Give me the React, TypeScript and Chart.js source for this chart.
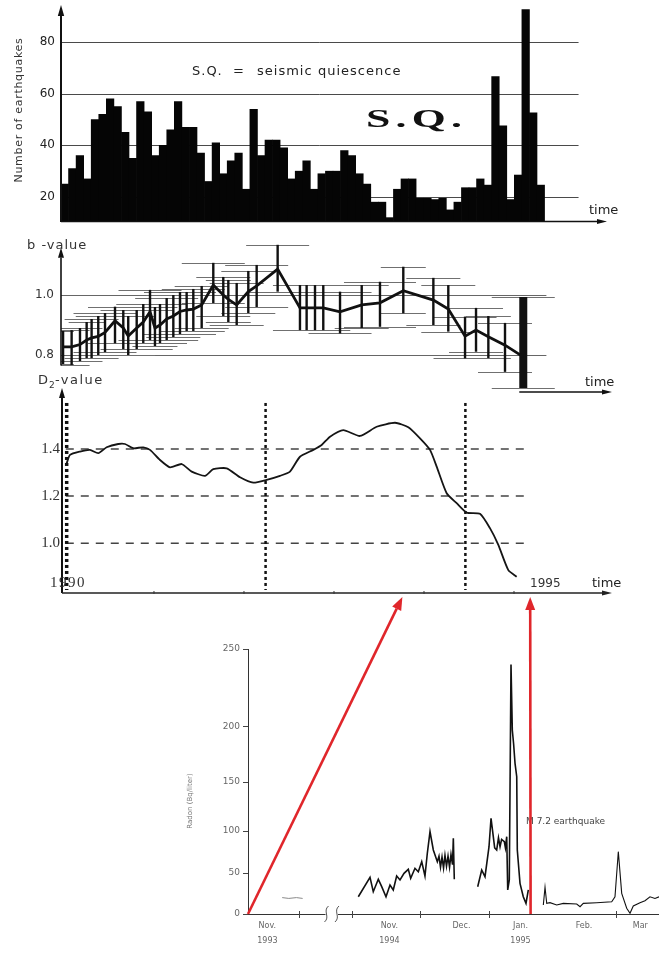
import React, { useEffect, useRef } from "react";
import { Chart, registerables, LinearScale } from "chart.js";

Chart.register(...registerables);

const W = 659;
const H = 953;
const SANS = '"DejaVu Sans", sans-serif';
const SERIF = '"Liberation Serif", serif';

// ---------- Panel 1: monthly number of earthquakes (1990 - 1995) ----------
const quakeMonths = Array.from({ length: 72 }, (_, i) => `${1990 + Math.floor(i / 12)}-${(i % 12) + 1}`);
const quakeCounts = [
  25, 31, 36, 27, 50, 52, 58, 55, 45, 35,
  57, 53, 36, 40, 46, 57, 47, 47, 37, 26,
  41, 29, 34, 37, 23, 54, 36, 42, 42, 39,
  27, 30, 34, 23, 29, 30, 30, 38, 36, 29,
  25, 18, 18, 12, 23, 27, 27, 19.5, 19.5, 19,
  19.5, 15, 18, 23.6, 23.6, 27, 24.6, 66.6, 47.6, 19,
  28.5, 92.6, 52.6, 24.6,
];
const quakeTicks = [20, 40, 60, 80];
const quakeGridEnd = 68; // month index where the reference lines stop

// ---------- Panel 2: b-value with error bars ----------
const bYears = [
  1989.99, 1990.085, 1990.178, 1990.252, 1990.307, 1990.381, 1990.456, 1990.567, 1990.659, 1990.714,
  1990.808, 1990.881, 1990.956, 1991.011, 1991.067, 1991.141, 1991.215, 1991.289, 1991.363, 1991.437,
  1991.53, 1991.659, 1991.77, 1991.826, 1991.919, 1992.048, 1992.141, 1992.374, 1992.622, 1992.696,
  1992.789, 1992.881, 1993.067, 1993.308, 1993.511, 1993.77, 1994.104, 1994.27, 1994.456, 1994.578,
  1994.715, 1994.9, 1995.103,
];
const bValues = [
  0.827, 0.827, 0.835, 0.85, 0.857, 0.862, 0.875, 0.914, 0.89, 0.863,
  0.89, 0.91, 0.944, 0.89, 0.9, 0.92, 0.93, 0.945, 0.95, 0.953,
  0.967, 1.033, 1.0, 0.985, 0.967, 1.011, 1.03, 1.086, 0.957, 0.957,
  0.957, 0.957, 0.944, 0.967, 0.974, 1.014, 0.983, 0.953, 0.863, 0.883,
  0.861, 0.833, 0.794,
];
const bLow = [
  0.77, 0.767, 0.78, 0.79, 0.79, 0.8, 0.81, 0.839, 0.82, 0.8,
  0.82, 0.84, 0.85, 0.83, 0.84, 0.85, 0.86, 0.87, 0.88, 0.88,
  0.89, 0.973, 0.93, 0.91, 0.9, 0.94, 0.96, 1.011, 0.883, 0.883,
  0.883, 0.883, 0.872, 0.89, 0.894, 0.939, 0.9, 0.878, 0.789, 0.811,
  0.79, 0.744, 0.69,
];
const bHigh = [
  0.88, 0.883, 0.89, 0.91, 0.92, 0.93, 0.94, 0.961, 0.95, 0.93,
  0.95, 0.97, 1.017, 0.96, 0.97, 0.99, 1.0, 1.01, 1.01, 1.02,
  1.03, 1.107, 1.06, 1.05, 1.04, 1.08, 1.1, 1.167, 1.033, 1.033,
  1.033, 1.033, 1.011, 1.033, 1.044, 1.094, 1.057, 1.033, 0.928, 0.957,
  0.93, 0.907, 0.993,
];
const bWindow = [
  0.12, 0.2, 0.25, 0.2, 0.3, 0.25, 0.35, 0.3, 0.25, 0.3,
  0.4, 0.3, 0.35, 0.25, 0.3, 0.35, 0.3, 0.4, 0.3, 0.35,
  0.3, 0.35, 0.3, 0.25, 0.3, 0.3, 0.35, 0.35, 0.3, 0.25,
  0.3, 0.3, 0.35, 0.3, 0.4, 0.25, 0.3, 0.3, 0.35, 0.3,
  0.25, 0.3, 0.35,
];
const bTicks = [0.8, 1.0];
const bGridEnd = 1995.36;

// ---------- Panel 3: D2 correlation dimension ----------
const d2Years = [
  1990.03, 1990.067, 1990.178, 1990.289, 1990.381, 1990.474, 1990.603, 1990.678, 1990.77, 1990.881,
  1990.956, 1991.067, 1991.178, 1991.308, 1991.419, 1991.567, 1991.659, 1991.808, 1991.956, 1992.103,
  1992.252, 1992.4, 1992.511, 1992.622, 1992.77, 1992.863, 1992.956, 1993.103, 1993.289, 1993.474,
  1993.678, 1993.826, 1993.956, 1994.067, 1994.141, 1994.252, 1994.363, 1994.474, 1994.622, 1994.733,
  1994.826, 1994.937, 1995.03,
];
const d2Values = [
  1.339, 1.375, 1.389, 1.396, 1.382, 1.407, 1.421, 1.421, 1.403, 1.407,
  1.396, 1.353, 1.322, 1.336, 1.304, 1.286, 1.314, 1.318, 1.28, 1.257,
  1.269, 1.286, 1.304, 1.367, 1.396, 1.417, 1.452, 1.48, 1.455, 1.494,
  1.511, 1.492, 1.445, 1.396, 1.325, 1.212, 1.17, 1.13, 1.125, 1.064,
  0.993, 0.886, 0.858,
];
const d2Ticks = [1.0, 1.2, 1.4];
const d2YearTicks = [1991, 1992, 1993, 1994, 1995];
const d2Dividers = [1990.03, 1992.24, 1994.46];
const d2DividerTop = 1.595;
const d2GridStart = 1990.02;
const d2GridEnd = 1995.18;

// ---------- Panel 4: radon (Bq/liter), months since Nov 1993 ----------
const radonNov93X = [0.67, 0.8, 0.95, 1.07];
const radonNov93Y = [20, 19, 20, 19];
const radonNovX = [
  12.093, 12.265, 12.313, 12.387, 12.437, 12.5, 12.559, 12.607, 12.657, 12.706,
  12.765, 12.828, 12.863, 12.926, 12.975, 13.025, 13.072, 13.106, 13.145, 13.193,
  13.251, 13.275, 13.297, 13.319, 13.341, 13.362, 13.384, 13.406, 13.428, 13.449,
  13.471, 13.483, 13.497,
];
const radonNovY = [
  21, 44.8, 27.2, 42.3, 33.3, 21.1, 35.4, 29.3, 46.3, 41.5,
  49.6, 54.4, 43.5, 55.6, 51.5, 63.5, 46.3, 73.5, 99.2, 77.4,
  63.5, 70, 57, 69, 56, 71, 58, 70, 57, 72,
  60, 91.3, 42.3,
];
const radonDecX = [
  13.836, 13.894, 13.942, 14.0, 14.032, 14.068, 14.09, 14.122, 14.15, 14.175,
  14.2, 14.243, 14.26, 14.281, 14.297, 14.322, 14.349, 14.37, 14.39, 14.413,
  14.44, 14.449, 14.492, 14.544, 14.587, 14.624,
];
const radonDecY = [
  33.3, 53.6, 45.5, 81.3, 113, 93.2, 80, 77.4, 92, 81.3,
  90, 87.3, 80, 93.2, 29.3, 41.5, 240, 197, 185, 167,
  154.8, 77.4, 37.4, 21, 13, 29.3,
];
const radonJanX = [
  14.862, 14.889, 14.916, 14.968, 15.073, 15.177, 15.386, 15.438, 15.489, 15.698,
  15.933, 15.984, 16.036, 16.089, 16.167, 16.219, 16.27, 16.375, 16.453, 16.531,
  16.609, 16.672,
];
const radonJanY = [
  11, 32.6, 13, 13.8, 11, 13, 12.2, 8.9, 13, 13.8,
  15, 21, 75.4, 25.2, 7, 0.9, 9.8, 13.8, 16.2, 21,
  19, 21,
];
const radonYTicks = [0, 50, 100, 150, 200, 250];
const radonLabelPos = [0.38, 12.55, 13.6, 14.5, 15.5, 16.38];
const radonLabels: (string | string[])[] = [["Nov.", "1993"], ["Nov.", "1994"], "Dec.", ["Jan.", "1995"], "Feb.", "Mar"];
const radonMonthTicks = [1, 12, 13, 14, 16];
const radonBreak = [2.5, 9.5];
// axis stops of the (non-uniform) reproduced radon graph: [value, fraction of axis]
const radonXStops = [[0, 0], [1, 0.1241], [1.5, 0.1873], [11.5, 0.2238], [12, 0.253], [13, 0.4185], [14, 0.5864], [15, 0.7397], [16, 0.8954], [16.672, 1]];
const radonYStops = [[0, 0], [50, 0.1547], [100, 0.3132], [150, 0.4981], [200, 0.7057], [250, 1]];

// red arrows: radon month (at 0 Bq/l) -> year on the D2 time axis
const arrowFromMonth = [0, 14.66];
const arrowToYear = [1993.76, 1995.18];

// ---------- helpers ----------
function interp(stops: number[][], v: number, from: number, to: number) {
  let i = 0;
  while (i < stops.length - 2 && v > stops[i + 1][from]) i++;
  const a = stops[i];
  const b = stops[i + 1];
  return a[to] + ((v - a[from]) / (b[from] - a[from])) * (b[to] - a[to]);
}

function makeBrokenScale(scaleId: string, stops: number[][]) {
  class BrokenScale extends LinearScale {
    static id = scaleId;
    static defaults = LinearScale.defaults;
    getPixelForValue(value: number) {
      return this.getPixelForDecimal(interp(stops, value, 0, 1));
    }
    getValueForPixel(pixel: number) {
      return interp(stops, this.getDecimalForPixel(pixel), 1, 0);
    }
  }
  return BrokenScale;
}
Chart.register(makeBrokenScale("radonTime", radonXStops) as any, makeBrokenScale("radonLevel", radonYStops) as any);

const fitBox = (w: number | null, h: number | null) => (s: any) => {
  if (w !== null) s.width = w;
  if (h !== null) s.height = h;
  s.paddingTop = 0;
  s.paddingBottom = 0;
  s.paddingLeft = 0;
  s.paddingRight = 0;
};

const fixedTicks = (vals: number[]) => (s: any) => {
  s.ticks = vals.map((v) => ({ value: v }));
};

function seg(ctx: CanvasRenderingContext2D, x0: number, y0: number, x1: number, y1: number) {
  ctx.beginPath();
  ctx.moveTo(x0, y0);
  ctx.lineTo(x1, y1);
  ctx.stroke();
}

function arrow(ctx: CanvasRenderingContext2D, x0: number, y0: number, x1: number, y1: number, color: string, width: number, len: number, half: number) {
  const ang = Math.atan2(y1 - y0, x1 - x0);
  const bx = x1 - len * Math.cos(ang);
  const by = y1 - len * Math.sin(ang);
  ctx.save();
  ctx.strokeStyle = color;
  ctx.fillStyle = color;
  ctx.lineWidth = width;
  ctx.setLineDash([]);
  seg(ctx, x0, y0, bx, by);
  ctx.beginPath();
  ctx.moveTo(x1, y1);
  ctx.lineTo(bx + half * Math.sin(ang), by - half * Math.cos(ang));
  ctx.lineTo(bx - half * Math.sin(ang), by + half * Math.cos(ang));
  ctx.closePath();
  ctx.fill();
  ctx.restore();
}

function text(ctx: CanvasRenderingContext2D, s: string, x: number, y: number, font: string, color: string, align: CanvasTextAlign = "left", spacing = 0) {
  ctx.save();
  ctx.font = font;
  ctx.fillStyle = color;
  ctx.textAlign = align;
  ctx.textBaseline = "middle";
  (ctx as any).letterSpacing = spacing + "px";
  ctx.fillText(s, x, y);
  ctx.restore();
}

const baseOptions = {
  responsive: false,
  animation: false as const,
  events: [] as any[],
  plugins: { legend: { display: false }, tooltip: { enabled: false } },
};

// ---------- decorations ----------
const quakeDecor = {
  id: "quakeDecor",
  beforeDatasetsDraw(chart: any) {
    const { ctx, chartArea: a, scales: { x, y } } = chart;
    ctx.save();
    ctx.strokeStyle = "#4a4a4a";
    ctx.lineWidth = 1;
    for (const t of quakeTicks) {
      const py = Math.round(y.getPixelForValue(t)) + 0.5;
      seg(ctx, a.left, py, x.getPixelForValue(quakeGridEnd), py);
    }
    ctx.restore();
  },
  afterDatasetsDraw(chart: any) {
    const { ctx, chartArea: a } = chart;
    arrow(ctx, a.left, a.bottom + 1, a.left, a.top - 3, "#111", 2, 11, 3.2);
    arrow(ctx, a.left, a.bottom + 0.5, a.right + 2, a.bottom + 0.5, "#111", 1.5, 10, 2.6);
    text(ctx, "time", a.right - 16, a.bottom - 10, `13px ${SANS}`, "#222");
    ctx.save();
    ctx.translate(19, 110);
    ctx.rotate(-Math.PI / 2);
    text(ctx, "Number of earthquakes", 0, 0, `11px ${SANS}`, "#333", "center", 0.7);
    ctx.restore();
    const f = `13px ${SANS}`;
    text(ctx, "S.Q.", 192, 72, f, "#222", "left", 1);
    text(ctx, "=", 233, 72, f, "#222", "left", 1);
    text(ctx, "seismic", 257, 72, f, "#222", "left", 1);
    text(ctx, "quiescence", 318, 72, f, "#222", "left", 1);
    ctx.save();
    ctx.translate(366, 121);
    ctx.scale(1.75, 1);
    text(ctx, "S.Q.", 0, 0, `bold 25px ${SERIF}`, "#111", "left", 3);
    ctx.restore();
  },
};

const bDecor = {
  id: "bDecor",
  beforeDatasetsDraw(chart: any) {
    const { ctx, chartArea: a, scales: { x, y } } = chart;
    ctx.save();
    ctx.strokeStyle = "#666";
    ctx.lineWidth = 1;
    for (const t of bTicks) {
      const py = Math.round(y.getPixelForValue(t)) + 0.5;
      seg(ctx, a.left, py, x.getPixelForValue(bGridEnd), py);
    }
    ctx.strokeStyle = "#707070";
    bYears.forEach((yr, i) => {
      const x0 = Math.max(a.left, x.getPixelForValue(yr - bWindow[i]));
      const x1 = x.getPixelForValue(yr + bWindow[i]);
      for (const v of [bLow[i], bHigh[i]]) {
        const py = Math.round(y.getPixelForValue(v)) + 0.5;
        seg(ctx, x0, py, x1, py);
      }
    });
    ctx.strokeStyle = "#111";
    bYears.forEach((yr, i) => {
      ctx.lineWidth = i === bYears.length - 1 ? 8 : 2.4;
      const px = x.getPixelForValue(yr);
      seg(ctx, px, y.getPixelForValue(bLow[i]), px, y.getPixelForValue(bHigh[i]));
    });
    ctx.restore();
  },
  afterDatasetsDraw(chart: any) {
    const { ctx, chartArea: a, scales: { x, y } } = chart;
    arrow(ctx, a.left, y.getPixelForValue(0.765), a.left, y.getPixelForValue(1.157), "#111", 1.6, 10, 3);
    const startX = x.getPixelForValue(bYears[bYears.length - 1]) - 4;
    arrow(ctx, startX, a.bottom, a.right + 7, a.bottom, "#111", 1.5, 10, 2.6);
    text(ctx, "time", a.right - 20, a.bottom - 9, `13px ${SANS}`, "#222");
    text(ctx, "b -value", 27, 246, `13px ${SANS}`, "#333", "left", 1);
  },
};

const d2Decor = {
  id: "d2Decor",
  beforeDatasetsDraw(chart: any) {
    const { ctx, chartArea: a, scales: { x, y } } = chart;
    ctx.save();
    ctx.setLineDash([8, 7]);
    ctx.strokeStyle = "#444";
    ctx.lineWidth = 1.5;
    for (const t of d2Ticks) {
      const py = y.getPixelForValue(t);
      seg(ctx, x.getPixelForValue(d2GridStart), py, x.getPixelForValue(d2GridEnd), py);
    }
    ctx.setLineDash([3, 3]);
    ctx.strokeStyle = "#111";
    d2Dividers.forEach((yr, i) => {
      ctx.lineWidth = i === 0 ? 3.5 : 2.5;
      const px = x.getPixelForValue(yr);
      seg(ctx, px, y.getPixelForValue(d2DividerTop), px, a.bottom - 3);
    });
    ctx.restore();
  },
  afterDatasetsDraw(chart: any) {
    const { ctx, chartArea: a, scales: { x } } = chart;
    arrow(ctx, a.left, a.bottom, a.left, a.top - 2, "#111", 2, 10, 3);
    arrow(ctx, a.left, a.bottom, a.right, a.bottom, "#222", 1.4, 10, 2.6);
    ctx.save();
    ctx.strokeStyle = "#333";
    ctx.lineWidth = 1;
    for (const yr of d2YearTicks) {
      const px = x.getPixelForValue(yr);
      seg(ctx, px, a.bottom - 2, px, a.bottom + 1);
    }
    ctx.restore();
    text(ctx, "D", 38, 381, `13px ${SANS}`, "#333");
    text(ctx, "2", 49, 386, `9px ${SANS}`, "#333");
    text(ctx, "-value", 55, 381, `13px ${SANS}`, "#333", "left", 1.5);
    text(ctx, "1990", 50, 583, `15px ${SERIF}`, "#333", "left", 1.5);
    text(ctx, "1995", 530, 584, `12px ${SANS}`, "#333");
    text(ctx, "time", 592, 584, `13px ${SANS}`, "#222");
  },
};

// ---------- component ----------
export default function App() {
  const r1 = useRef<HTMLCanvasElement>(null);
  const r2 = useRef<HTMLCanvasElement>(null);
  const r3 = useRef<HTMLCanvasElement>(null);
  const r4 = useRef<HTMLCanvasElement>(null);

  useEffect(() => {
    const quake = new Chart(r1.current as HTMLCanvasElement, {
      type: "bar",
      data: {
        labels: quakeMonths,
        datasets: [
          {
            data: quakeCounts,
            backgroundColor: "#050505",
            borderWidth: 0,
            barPercentage: 1,
            categoryPercentage: 1,
          },
        ],
      },
      options: {
        ...baseOptions,
        layout: { padding: { left: 0, top: 8, right: W - 605, bottom: H - 221 } },
        scales: {
          x: { display: false },
          y: {
            min: 10.7,
            max: 93.2,
            afterBuildTicks: fixedTicks(quakeTicks),
            afterFit: fitBox(61, null),
            grid: { display: false, drawTicks: false },
            border: { display: false },
            ticks: { padding: 6, color: "#222", font: { family: SANS, size: 12 } },
          },
        },
      } as any,
      plugins: [quakeDecor],
    });

    const bval = new Chart(r2.current as HTMLCanvasElement, {
      type: "line",
      data: {
        datasets: [
          {
            data: bYears.map((yr, i) => ({ x: yr, y: bValues[i] })),
            borderColor: "#111",
            borderWidth: 2.8,
            pointRadius: 0,
            tension: 0,
          },
        ],
      },
      options: {
        ...baseOptions,
        layout: { padding: { left: 0, top: 240, right: W - 605, bottom: H - 392 } },
        scales: {
          x: { type: "linear", min: 1989.967, max: 1996.011, display: false },
          y: {
            min: 0.677,
            max: 1.183,
            afterBuildTicks: fixedTicks(bTicks),
            afterFit: fitBox(61, null),
            grid: { display: false, drawTicks: false },
            border: { display: false },
            ticks: { padding: 7, color: "#333", font: { family: SANS, size: 12 }, callback: (v: any) => Number(v).toFixed(1) },
          },
        },
      } as any,
      plugins: [bDecor],
    });

    const d2 = new Chart(r3.current as HTMLCanvasElement, {
      type: "line",
      data: {
        datasets: [
          {
            data: d2Years.map((yr, i) => ({ x: yr, y: d2Values[i] })),
            borderColor: "#151515",
            borderWidth: 1.8,
            pointRadius: 0,
            tension: 0.2,
          },
        ],
      },
      options: {
        ...baseOptions,
        layout: { padding: { left: 0, top: 390, right: W - 612, bottom: H - 593 } },
        scales: {
          x: { type: "linear", min: 1989.978, max: 1996.089, display: false },
          y: {
            min: 0.789,
            max: 1.65,
            afterBuildTicks: fixedTicks(d2Ticks),
            afterFit: fitBox(62, null),
            grid: { display: false, drawTicks: false },
            border: { display: false },
            ticks: { padding: 2, color: "#333", font: { family: SERIF, size: 15 }, callback: (v: any) => Number(v).toFixed(1) },
          },
        },
      } as any,
      plugins: [d2Decor],
    });

    const radonDecor = {
      id: "radonDecor",
      afterDraw(chart: any) {
        const { ctx, chartArea: a, scales: { x, y } } = chart;
        ctx.save();
        ctx.translate(190, 801);
        ctx.rotate(-Math.PI / 2);
        text(ctx, "Radon (Bq/liter)", 0, 0, `7px ${SANS}`, "#777", "center");
        ctx.restore();
        ctx.save();
        ctx.strokeStyle = "#444";
        ctx.lineWidth = 1;
        for (const m of radonMonthTicks) {
          const px = Math.round(x.getPixelForValue(m)) + 0.5;
          seg(ctx, px, a.bottom - 3, px, a.bottom + 4);
        }
        const b0 = x.getPixelForValue(radonBreak[0]);
        const b1 = x.getPixelForValue(radonBreak[1]);
        ctx.fillStyle = "#fff";
        ctx.fillRect(b0 - 1, a.bottom - 2, b1 - b0 + 2, 4);
        ctx.strokeStyle = "#555";
        for (const bx of [b0, b1]) {
          ctx.beginPath();
          ctx.moveTo(bx + 2, a.bottom - 8);
          ctx.bezierCurveTo(bx - 4, a.bottom - 3, bx + 4, a.bottom + 3, bx - 2, a.bottom + 8);
          ctx.stroke();
        }
        ctx.restore();
        text(ctx, "M 7.2 earthquake", 526, 822, `9px ${SANS}`, "#444");
        const dx = d2.scales.x;
        const topY = d2.chartArea.bottom + 4;
        arrowFromMonth.forEach((m, i) => {
          arrow(ctx, x.getPixelForValue(m), y.getPixelForValue(0), dx.getPixelForValue(arrowToYear[i]), topY, "#e0262b", 2.6, 13, 5);
        });
      },
    };

    const line = (xs: number[], ys: number[], color: string, width: number) => ({
      data: xs.map((v, i) => ({ x: v, y: ys[i] })),
      borderColor: color,
      borderWidth: width,
      pointRadius: 0,
      tension: 0,
    });

    const radon = new Chart(r4.current as HTMLCanvasElement, {
      type: "line",
      data: {
        datasets: [
          line(radonNov93X, radonNov93Y, "#8a8a8a", 1),
          line(radonNovX, radonNovY, "#111", 1.6),
          line(radonDecX, radonDecY, "#111", 1.6),
          line(radonJanX, radonJanY, "#111", 1.1),
        ],
      },
      options: {
        ...baseOptions,
        layout: { padding: { left: 188, top: 649, right: 0, bottom: 0 } },
        scales: {
          x: {
            type: "radonTime",
            min: 0,
            max: 16.672,
            afterBuildTicks: fixedTicks(radonLabelPos),
            afterFit: fitBox(null, 39),
            grid: { drawOnChartArea: false, drawTicks: false },
            border: { color: "#333", width: 1 },
            ticks: {
              autoSkip: false,
              maxRotation: 0,
              minRotation: 0,
              padding: 5,
              color: "#666",
              font: { family: SANS, size: 8, lineHeight: 1.85 },
              callback: (_v: any, i: number) => radonLabels[i],
            },
          },
          y: {
            type: "radonLevel",
            min: 0,
            max: 250,
            afterBuildTicks: fixedTicks(radonYTicks),
            afterFit: fitBox(60, null),
            grid: { drawOnChartArea: false, tickLength: 5, color: "#444" },
            border: { color: "#333", width: 1 },
            ticks: { padding: 3, color: "#666", font: { family: SANS, size: 9 } },
          },
        },
      } as any,
      plugins: [radonDecor],
    });

    return () => {
      radon.destroy();
      d2.destroy();
      bval.destroy();
      quake.destroy();
    };
  }, []);

  const style: React.CSSProperties = { position: "absolute", left: 0, top: 0 };
  return (
    <div style={{ position: "absolute", left: 0, top: 0, width: W, height: H, overflow: "hidden", background: "#fff" }}>
      <canvas ref={r1} width={W} height={H} style={style} />
      <canvas ref={r2} width={W} height={H} style={style} />
      <canvas ref={r3} width={W} height={H} style={style} />
      <canvas ref={r4} width={W} height={H} style={style} />
    </div>
  );
}
